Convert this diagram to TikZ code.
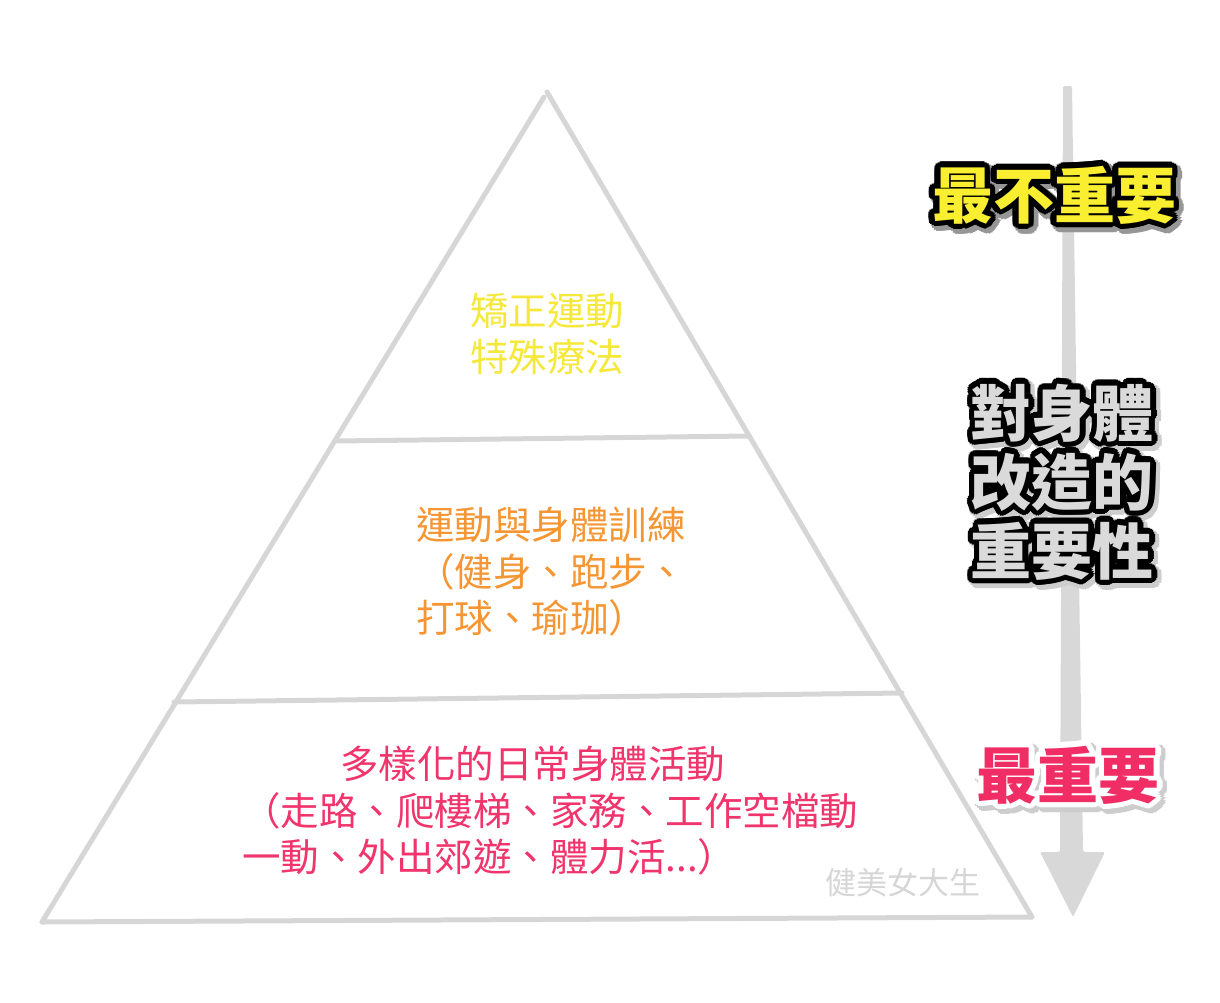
\documentclass[tikz,border=0pt]{standalone}
\usepackage{fontspec}
\usetikzlibrary{calc, positioning}
\newfontfamily\cjk{Noto Sans CJK TC}
\definecolor{colorLine}{RGB}{214, 214, 214}
\definecolor{colorTop}{RGB}{245, 232, 58}
\definecolor{colorMid}{RGB}{245, 150, 52}
\definecolor{colorBase}{RGB}{240, 52, 108}
\definecolor{colorLeast}{RGB}{250, 238, 48}
\definecolor{colorBody}{RGB}{218, 218, 218}
\definecolor{colorMost}{RGB}{240, 45, 100}
\definecolor{colorAxis}{RGB}{216, 216, 216}
\definecolor{colorShadow}{RGB}{150, 150, 150}
\definecolor{colorSoft}{RGB}{205, 205, 205}
\tikzstyle{edge} = [draw=colorLine, line width=5pt, line cap=round]
\tikzstyle{layer} = [inner sep=0pt, font=\cjk\fontsize{38.5}{46.5}\selectfont]
\tikzstyle{sidetext} = [inner sep=0pt, align=center, font=\cjk\bfseries\fontsize{61}{69}\selectfont]
\tikzstyle{watermark} = [inner sep=0pt, text=colorLine, font=\cjk\fontsize{31}{31}\selectfont]

% outlined text: name, position, fill, outline, shadow, text
\newcommand{\halonode}[6]{%
	\foreach \ang in {0,20,...,340}
		\node[sidetext, text=#5] at ($(#2)+(3,3)+(\ang:7)$) {#6};
	\foreach \ang in {0,20,...,340}
		\node[sidetext, text=#4] at ($(#2)+(\ang:5.5)$) {#6};
	\node[sidetext, text=#3] (#1) at (#2) {#6};
}

\begin{document}
\begin{tikzpicture}[x=1pt, y=-1pt]

		\useasboundingbox (0,0) rectangle (1220,1002);

		% pyramid
		\coordinate (apexL) at (544,97);
		\coordinate (apexR) at (547,92);
		\coordinate (baseL) at (42,922);
		\coordinate (baseR) at (1032,917);

		\draw[edge] (apexL) -- (baseL);
		\draw[edge] (apexR) -- (baseR);
		\draw[edge] (baseL) -- (baseR);
		\draw[edge] (335,441) -- (749,436);
		\draw[edge] (174,702) -- (902,693);

		% layer texts
		\node (tTop)[layer, text=colorTop, align=center] at (547,334) {矯正運動\\特殊療法};
		\node (tMid)[layer, text=colorMid, align=left, anchor=west] at (416,572) {運動與身體訓練\\（健身、跑步、\\打球、瑜珈）};
		\node (tBase)[layer, text=colorBase, align=left, anchor=west] at (242,811) {\hspace*{98pt}多樣化的日常身體活動\\（走路、爬樓梯、家務、工作空檔動\\一動、外出郊遊、體力活...）};

		\node (tMark)[watermark] at (903,883) {健美女大生};

		% importance axis
		\coordinate (axisTop) at (1067,86);
		\coordinate (axisTip) at (1073,917);
		\fill[colorAxis, rounded corners=2pt] (1063,86) -- (1072,86) -- (1083,852) -- (1105,852) -- (axisTip) -- (1040,852) -- (1060,852) -- cycle;

		% side labels
		\coordinate (pLeast) at (1054,195);
		\coordinate (pBody) at (1062,482);
		\coordinate (pMost) at (1068,775);

		\halonode{least}{pLeast}{colorLeast}{black}{colorShadow}{最不重要}
		\halonode{body}{pBody}{colorBody}{black}{colorSoft}{對身體\\改造的\\重要性}
		\halonode{most}{pMost}{colorMost}{white}{colorSoft}{最重要}

	\end{tikzpicture}
\end{document}
